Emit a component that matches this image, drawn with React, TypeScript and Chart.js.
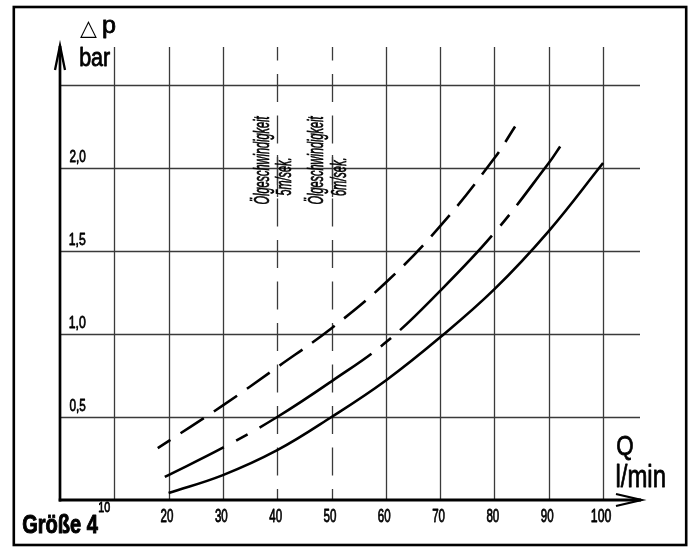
import React, { useEffect, useRef } from "react";
import { Chart, registerables } from "chart.js";

Chart.register(...registerables);

// ---- data ----
const xGridValues = [10, 20, 30, 40, 50, 60, 70, 80, 90, 100];
const xTickLabels = ["10", "20", "30", "40", "50", "60", "70", "80", "90", "100"];
const yGridValues = [0.5, 1.0, 1.5, 2.0, 2.5];
const yTickValues = [0.5, 1.0, 1.5, 2.0];
const yTickLabels = ["0,5", "1,0", "1,5", "2,0"];
const speedLineValues = [40, 50];
const speedTitle = "Ölgeschwindigkeit";
const speedLabels = ["5m/sek.", "6m/sek."];

const qTop = [18, 30, 40, 50, 60, 70, 80, 83.8];
const dpTop = [0.313, 0.57, 0.8, 1.035, 1.31, 1.65, 2.06, 2.25];
const qMid = [19.3, 30, 40, 50, 60, 70, 80, 90, 92.1];
const dpMid = [0.139, 0.315, 0.5, 0.715, 0.95, 1.26, 1.61, 2.03, 2.13];
const qLow = [20, 30, 40, 50, 60, 70, 80, 90, 100];
const dpLow = [0.042, 0.15, 0.3, 0.5, 0.72, 0.98, 1.27, 1.62, 2.03];

const FONT = '"Liberation Sans", Arial, sans-serif';

// draw text fitted horizontally to a target width (measured from actual glyph extents)
function fit(
  ctx: CanvasRenderingContext2D,
  s: string,
  x: number,
  y: number,
  font: string,
  width: number,
  align: "left" | "center" = "left",
  stroke = 0.8
) {
  ctx.save();
  ctx.font = font;
  ctx.textAlign = "left";
  ctx.textBaseline = "alphabetic";
  const m = ctx.measureText(s);
  const l = m.actualBoundingBoxLeft || 0;
  const r = m.actualBoundingBoxRight || m.width;
  const inkW = l + r;
  const sx = width / inkW;
  const startX = align === "center" ? x - width / 2 : x;
  ctx.fillStyle = "#000";
  ctx.strokeStyle = "#000";
  ctx.translate(startX, y);
  ctx.scale(sx, 1);
  ctx.fillText(s, l, 0);
  if (stroke > 0) {
    ctx.lineWidth = stroke;
    ctx.lineJoin = "round";
    ctx.strokeText(s, l, 0);
  }
  ctx.restore();
}

function rotTxt(
  ctx: CanvasRenderingContext2D,
  s: string,
  x: number,
  yCenter: number,
  font: string,
  len: number
) {
  ctx.save();
  ctx.font = font;
  ctx.textAlign = "left";
  ctx.textBaseline = "alphabetic";
  const m = ctx.measureText(s);
  const l = m.actualBoundingBoxLeft || 0;
  const r = m.actualBoundingBoxRight || m.width;
  const inkW = l + r;
  ctx.fillStyle = "#000";
  ctx.strokeStyle = "#000";
  ctx.translate(x, yCenter);
  ctx.rotate(-Math.PI / 2);
  ctx.scale(len / inkW, 1);
  ctx.fillText(s, l - inkW / 2, 0);
  ctx.lineWidth = 0.7;
  ctx.strokeText(s, l - inkW / 2, 0);
  ctx.restore();
}

const decorPlugin = {
  id: "decor",
  beforeDatasetsDraw(chart: any) {
    const ctx: CanvasRenderingContext2D = chart.ctx;
    const xs = chart.scales.x;
    const ys = chart.scales.y;
    const a = chart.chartArea;
    ctx.save();
    ctx.strokeStyle = "#3a3a3a";
    ctx.lineWidth = 1.3;
    yGridValues.forEach((v) => {
      const py = Math.round(ys.getPixelForValue(v)) + 0.5;
      ctx.beginPath();
      ctx.moveTo(a.left, py);
      ctx.lineTo(a.right, py);
      ctx.stroke();
    });
    xGridValues.forEach((v) => {
      const px = Math.round(xs.getPixelForValue(v)) + 0.5;
      const dashed = speedLineValues.includes(v);
      ctx.beginPath();
      if (dashed) {
        ctx.setLineDash([28, 13.5]);
        ctx.lineDashOffset = 14.5;
      } else {
        ctx.setLineDash([]);
      }
      ctx.moveTo(px, a.top);
      ctx.lineTo(px, a.bottom);
      ctx.stroke();
    });
    ctx.setLineDash([]);
    speedLineValues.forEach((v) => {
      const px = Math.round(xs.getPixelForValue(v)) + 0.5;
      ctx.beginPath();
      ctx.moveTo(px, 155);
      ctx.lineTo(px, 197);
      ctx.stroke();
    });
    ctx.restore();

    speedLineValues.forEach((v, i) => {
      const px = xs.getPixelForValue(v);
      rotTxt(ctx, speedTitle, px - 8.5, 160, `italic 22px ${FONT}`, 88);
      rotTxt(ctx, speedLabels[i], px + 14, 177, `italic 22px ${FONT}`, 37);
    });

    xGridValues.forEach((v, i) => {
      const px = xs.getPixelForValue(v);
      if (i === 0) {
        fit(ctx, xTickLabels[i], 99, 512, `15px ${FONT}`, 11, "left");
      } else {
        fit(ctx, xTickLabels[i], px - 1.5, 522, `17.5px ${FONT}`, xTickLabels[i].length === 3 ? 20 : 13, "center");
      }
    });
    yTickValues.forEach((v, i) => {
      const py = ys.getPixelForValue(v);
      fit(ctx, yTickLabels[i], 69.5, py - 6.5, `17px ${FONT}`, 16, "left");
    });

    fit(ctx, "△", 80, 35, `22px "DejaVu Sans", ${FONT}`, 17, "left", 0);
    fit(ctx, "p", 103, 33, `23px ${FONT}`, 12, "left");
    fit(ctx, "bar", 80, 66, `25px ${FONT}`, 30, "left");
    fit(ctx, "Q", 617, 455, `28px ${FONT}`, 16, "left");
    fit(ctx, "l/min", 617, 487, `31px ${FONT}`, 48, "left");
    fit(ctx, "Größe 4", 23, 533, `bold 25px ${FONT}`, 75, "left", 1);
  },
  afterDatasetsDraw(chart: any) {
    const ctx: CanvasRenderingContext2D = chart.ctx;
    const a = chart.chartArea;
    ctx.save();
    ctx.strokeStyle = "#000";
    ctx.lineCap = "butt";
    ctx.lineJoin = "miter";
    ctx.lineWidth = 2.7;
    ctx.beginPath();
    ctx.moveTo(a.left, a.bottom + 1.5);
    ctx.lineTo(a.left, a.top - 1);
    ctx.stroke();
    ctx.lineWidth = 2.3;
    ctx.beginPath();
    ctx.moveTo(a.left - 5, a.top + 23);
    ctx.lineTo(a.left, a.top - 1.5);
    ctx.lineTo(a.left + 5, a.top + 23);
    ctx.stroke();
    ctx.lineWidth = 3.2;
    ctx.beginPath();
    ctx.moveTo(a.left - 1.3, a.bottom);
    ctx.lineTo(a.right + 1, a.bottom);
    ctx.stroke();
    ctx.lineWidth = 2.3;
    ctx.beginPath();
    ctx.moveTo(a.right - 24, a.bottom - 6);
    ctx.lineTo(a.right + 1.5, a.bottom);
    ctx.lineTo(a.right - 24, a.bottom + 6);
    ctx.stroke();
    ctx.lineWidth = 2.6;
    ctx.strokeRect(13.8, 7, 672.4, 538);
    ctx.restore();
  },
};

export default function App() {
  const ref = useRef<HTMLCanvasElement | null>(null);
  useEffect(() => {
    if (!ref.current) return;
    const mk = (xs: number[], ys: number[]) => xs.map((x, i) => ({ x, y: ys[i] }));
    const base = {
      borderColor: "#000",
      backgroundColor: "#000",
      borderWidth: 2.6,
      pointRadius: 0,
      fill: false,
      tension: 0.4,
    };
    const chart = new Chart(ref.current, {
      type: "line",
      data: {
        datasets: [
          { ...base, label: "a", data: mk(qTop, dpTop), borderDash: [28, 12], borderDashOffset: 13 },
          {
            ...base,
            label: "b",
            data: mk(qMid, dpMid),
            borderDash: [66, 14, 13, 14, 134, 12, 13, 12, 132, 13, 14, 12, 90, 20],
          },
          { ...base, label: "c", data: mk(qLow, dpLow) },
        ],
      },
      options: {
        animation: false,
        responsive: false,
        maintainAspectRatio: false,
        devicePixelRatio: 1,
        layout: { padding: { left: 60, right: 53, top: 47, bottom: 48 } },
        plugins: { legend: { display: false }, tooltip: { enabled: false }, title: { display: false } },
        scales: {
          x: { type: "linear", min: 0, max: 106.8, display: false },
          y: { type: "linear", min: 0, max: 2.729, display: false },
        },
      },
      plugins: [decorPlugin],
    });
    return () => chart.destroy();
  }, []);
  return (
    <div style={{ position: "fixed", left: 0, top: 0, width: 693, height: 548, background: "#fff" }}>
      <canvas ref={ref} width={693} height={548} style={{ width: 693, height: 548, display: "block" }} />
    </div>
  );
}
